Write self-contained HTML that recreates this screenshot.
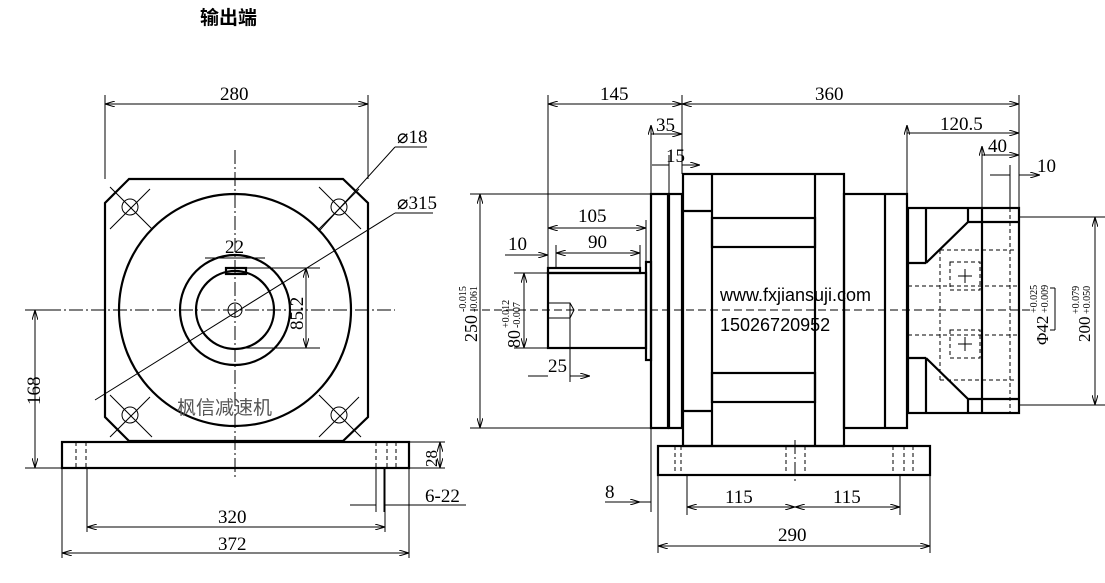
<!DOCTYPE html>
<html><head><meta charset="utf-8"><style>
html,body{margin:0;padding:0;background:#fff;}
svg{display:block;}
text{font-family:"Liberation Serif","Noto Serif CJK SC",serif;font-size:19px;fill:#000;}
.s{font-family:"Liberation Sans","Noto Sans CJK SC",sans-serif;}
</style></head><body>
<svg width="1105" height="583" viewBox="0 0 1105 583" xmlns="http://www.w3.org/2000/svg">
<defs>
<marker id="a" viewBox="0 0 10 6" refX="10" refY="3" markerWidth="10" markerHeight="6" orient="auto-start-reverse"><path d="M0,0 L10,3 L0,6" fill="none" stroke="#000" stroke-width="1"/></marker>
</defs>
<text x="200" y="24" class="s" style="font-size:19px;font-weight:bold">输出端</text>

<!-- LEFT VIEW -->
<g fill="none" stroke="#000" stroke-width="2.2">
<polygon points="129,179 343,179 368,203 368,417 343,441 129,441 105,417 105,203"/>
<circle cx="235" cy="310" r="116"/>
<circle cx="235" cy="310" r="55"/>
<circle cx="235" cy="310" r="39"/>
<rect x="226" y="268" width="20" height="6"/>
<rect x="62" y="442" width="347" height="26"/>
</g>
<g fill="none" stroke="#000" stroke-width="1">
<circle cx="235" cy="310" r="7"/>
<circle cx="130" cy="207" r="8"/><circle cx="339" cy="207" r="8"/>
<circle cx="130" cy="415" r="8"/><circle cx="339" cy="415" r="8"/>
<path d="M110,187 L152,229 M150,189 L110,229 M319,187 L361,229 M359,189 L319,229 M110,395 L152,437 M150,397 L110,437 M319,395 L361,437 M359,397 L319,437"/>
<path d="M25,310 H395 M235,150 V478" stroke-dasharray="14,3,2,3"/>
<path d="M76,442 V468 M86,442 V468 M376,442 V468 M387,442 V468 M396,442 V468" stroke-dasharray="4,3"/>
<path d="M105,95 V179 M368,95 V179"/>
<path d="M105,104 H368" marker-start="url(#a)" marker-end="url(#a)"/>
<path d="M87,468 V532 M385,468 V532 M62,468 V558 M409,468 V558"/>
<path d="M87,527 H385" marker-start="url(#a)" marker-end="url(#a)"/>
<path d="M62,553 H409" marker-start="url(#a)" marker-end="url(#a)"/>
<path d="M25,468 H62 M25,310 H60"/>
<path d="M35,310 V468" marker-start="url(#a)" marker-end="url(#a)"/>
<path d="M409,442 H445 M409,468 H445"/>
<path d="M440,442 V468" marker-start="url(#a)" marker-end="url(#a)"/>
<path d="M376,468 V512 M384,468 V512 M350,505 H376 M384,505 H466"/>
<path d="M246,268 H320 M246,348 H320"/>
<path d="M306,268 V348" marker-start="url(#a)" marker-end="url(#a)"/>
<path d="M395,147 H427 M395,147 L320,230" />
<path d="M395,213 H433 M395,213 L95,400"/>
<path d="M205,258 H265"/>
</g>
<text x="220" y="100">280</text>
<text x="218" y="523">320</text>
<text x="218" y="550">372</text>
<text transform="translate(40,405) rotate(-90)">168</text>
<text transform="translate(437,467) rotate(-90)" style="font-size:17px">28</text>
<text x="425" y="502">6-22</text>
<text x="397" y="143">⌀18</text>
<text x="397" y="209">⌀315</text>
<text x="225" y="253">22</text>
<text transform="translate(303,330) rotate(-90)">85.2</text>
<text x="177" y="414" class="s" style="fill:#555;font-size:19px">枫信减速机</text>

<!-- RIGHT VIEW -->
<g fill="none" stroke="#000" stroke-width="2.2">
<rect x="651" y="194" width="17" height="234"/>
<rect x="669" y="194" width="13" height="234"/>
<rect x="683" y="174" width="161" height="272"/>
<path d="M712,174 V446 M815,174 V446"/>
<rect x="712" y="218" width="103" height="29"/>
<rect x="712" y="373" width="103" height="29"/>
<path d="M683,211 H712 M683,411 H712"/>
<rect x="844" y="194" width="63" height="234"/>
<path d="M885,194 V428"/>
<rect x="908" y="208" width="111" height="205"/>
<path d="M926,208 V263 M926,358 V413 M908,263 H926 M908,358 H926 M926,263 L968,222 M926,358 L968,399 M968,208 V222 M968,399 V413 M982,208 V413 M968,222 H1019 M968,399 H1019"/>
<rect x="548" y="273" width="98" height="75"/>
<rect x="548" y="268" width="92" height="5"/>
<rect x="646" y="262" width="5" height="98"/>
<rect x="658" y="446" width="272" height="29"/>
</g>
<g fill="none" stroke="#000" stroke-width="1">
<path d="M548,303 H570 L574,310 L570,318 H548 M570,303 V318"/>
<path d="M470,310 H1030" stroke-dasharray="8,4"/>
<path d="M675,446 V475 M681,446 V475 M786,446 V475 M805,446 V475 M893,446 V475 M904,446 V475 M913,446 V475" stroke-dasharray="4,3"/>
<path d="M795,440 V483" stroke-dasharray="14,3,2,3"/>
<path d="M940,250 H1015 M940,380 H1015 M940,250 V380 M950,262 H980 V290 H950 Z M950,330 H980 V358 H950 Z M1010,208 V413 M908,286 H1019 M908,335 H1019" stroke-dasharray="4,3"/>
<path d="M958,276 H972 M965,269 V283 M958,344 H972 M965,337 V351"/>
<path d="M548,95 V273 M682,95 V174 M1019,95 V208"/>
<path d="M548,104 H682" marker-start="url(#a)" marker-end="url(#a)"/>
<path d="M682,104 H1019" marker-start="url(#a)" marker-end="url(#a)"/>
<path d="M651,125 V194 M651,134 H682" marker-start="url(#a)" marker-end="url(#a)"/>
<path d="M669,155 V194 M652,165 H669 M682,165 H700" marker-end="url(#a)"/>
<path d="M907,125 V194 M907,133 H1019" marker-start="url(#a)" marker-end="url(#a)"/>
<path d="M982,146 V208 M982,155 H1019" marker-start="url(#a)" marker-end="url(#a)"/>
<path d="M1010,165 V208 M990,175 H1010 M1019,175 H1040" marker-end="url(#a)"/>
<path d="M548,228 H646" marker-start="url(#a)" marker-end="url(#a)"/>
<path d="M556,253 H640" marker-start="url(#a)" marker-end="url(#a)"/>
<path d="M556,245 V268 M640,245 V268 M646,220 V262"/>
<path d="M505,255 H548" marker-end="url(#a)"/>
<path d="M570,318 V382 M528,376 H548 M570,376 H590" marker-end="url(#a)"/>
<path d="M470,194 H651 M470,428 H651"/>
<path d="M480,194 V428" marker-start="url(#a)" marker-end="url(#a)"/>
<path d="M514,273 H548 M514,348 H548"/>
<path d="M524,273 V348" marker-start="url(#a)" marker-end="url(#a)"/>
<path d="M1019,217 H1105 M1019,405 H1105"/>
<path d="M1095,217 V405" marker-start="url(#a)" marker-end="url(#a)"/>
<path d="M1055,288 V330 M1050,288 H1055 M1050,330 H1055"/>
<path d="M651,428 V512 M640,502 H651 M605,502 H640" marker-end="url(#a)"/>
<path d="M687,475 V515 M900,475 V515 M658,475 V553 M930,475 V553"/>
<path d="M687,507 H795" marker-start="url(#a)" marker-end="url(#a)"/>
<path d="M795,507 H900" marker-start="url(#a)" marker-end="url(#a)"/>
<path d="M658,546 H930" marker-start="url(#a)" marker-end="url(#a)"/>
</g>
<text x="600" y="100">145</text>
<text x="815" y="100">360</text>
<text x="656" y="131">35</text>
<text x="666" y="162">15</text>
<text x="940" y="130">120.5</text>
<text x="988" y="152">40</text>
<text x="1037" y="172">10</text>
<text x="578" y="222">105</text>
<text x="588" y="248">90</text>
<text x="508" y="250">10</text>
<text x="548" y="372">25</text>
<text x="605" y="498">8</text>
<text x="725" y="503">115</text>
<text x="833" y="503">115</text>
<text x="778" y="541">290</text>
<text class="s" x="720" y="301" style="font-size:18px">www.fxjiansuji.com</text>
<text class="s" x="720" y="331" style="font-size:18px">15026720952</text>
<g transform="translate(477,342) rotate(-90)"><text x="0" y="0" style="font-size:18px">250</text><text x="30" y="-11" style="font-size:10px">-0.015</text><text x="30" y="0" style="font-size:10px">-0.061</text></g>
<g transform="translate(520,348) rotate(-90)"><text x="0" y="0" style="font-size:18px">80</text><text x="20" y="-11" style="font-size:10px">+0.012</text><text x="20" y="0" style="font-size:10px">-0.007</text></g>
<g transform="translate(1048,345) rotate(-90)"><text x="0" y="0" style="font-size:17px">Φ42</text><text x="32" y="-11" style="font-size:10px">+0.025</text><text x="32" y="0" style="font-size:10px">+0.009</text></g>
<g transform="translate(1090,342) rotate(-90)"><text x="0" y="0" style="font-size:17px">200</text><text x="28" y="-11" style="font-size:10px">+0.079</text><text x="28" y="0" style="font-size:10px">+0.050</text></g>
</svg>
</body></html>
